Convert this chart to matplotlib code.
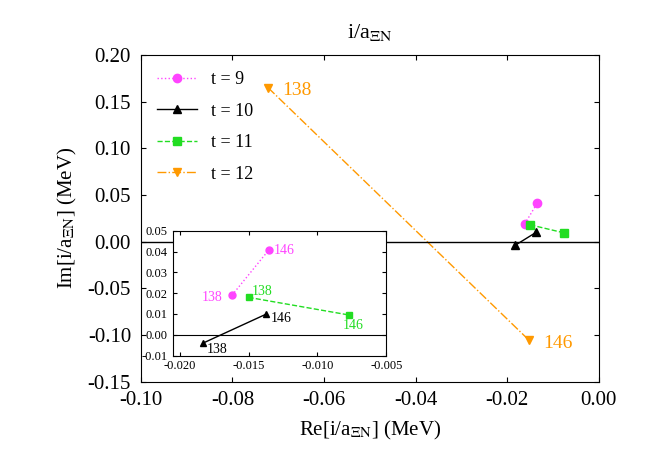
import matplotlib
matplotlib.use("Agg")
import matplotlib.pyplot as plt

plt.rcParams['font.family'] = 'Liberation Serif'
plt.rcParams['mathtext.fontset'] = 'stix'

labels = ["138", "146"]
t9_re = [-0.0162, -0.0135]; t9_im = [0.019, 0.041]
t10_re = [-0.0183, -0.0137]; t10_im = [-0.004, 0.010]
t11_re = [-0.0150, -0.0077]; t11_im = [0.018, 0.0095]
t12_re = [-0.0722, -0.0152]; t12_im = [0.165, -0.106]

series = [
    ("t = 9", t9_re, t9_im, "#ff44ff", "o", ":"),
    ("t = 10", t10_re, t10_im, "black", "^", "-"),
    ("t = 11", t11_re, t11_im, "#22dd22", "s", "--"),
    ("t = 12", t12_re, t12_im, "#ff9900", "v", "-."),
]

fig = plt.figure(figsize=(6.64, 4.71), dpi=100)
ax = fig.add_axes([0.212, 0.19, 0.69, 0.693])
for name, x, y, c, m, ls in series:
    ax.plot(x, y, color=c, marker=m, ls=ls, lw=1, ms=6, label=name)
ax.axhline(0, color='black', lw=1)
ax.text(t12_re[0] + 0.003, t12_im[0] - 0.003, "138", color="#ff9900", fontsize=14, va='center')
ax.text(t12_re[1] + 0.003, t12_im[1] - 0.003, "146", color="#ff9900", fontsize=14, va='center')
ax.set_xlim(-0.10, 0.0)
ax.set_ylim(-0.15, 0.20)
ax.set_xticks([-0.10, -0.08, -0.06, -0.04, -0.02, 0.00])
ax.set_xticklabels(["-0.10", "-0.08", "-0.06", "-0.04", "-0.02", "0.00"])
ax.set_yticks([-0.15, -0.10, -0.05, 0.0, 0.05, 0.10, 0.15, 0.20])
ax.set_yticklabels(["-0.15", "-0.10", "-0.05", "0.00", "0.05", "0.10", "0.15", "0.20"])
ax.tick_params(labelsize=15, direction='in', top=True, right=True, pad=7)
ax.set_xlabel(r"Re[i/a$_{\Xi\mathrm{N}}$] (MeV)", fontsize=15, labelpad=6)
ax.set_ylabel(r"Im[i/a$_{\Xi\mathrm{N}}$] (MeV)", fontsize=15, labelpad=6)
ax.set_title(r"i/a$_{\Xi\mathrm{N}}$", fontsize=16, pad=12)
ax.legend(loc='upper left', frameon=False, fontsize=13, handlelength=2.2, labelspacing=0.8)

ins = fig.add_axes([0.26, 0.245, 0.322, 0.265])
for name, x, y, c, m, ls in series[:3]:
    ins.plot(x, y, color=c, marker=m, ls=ls, lw=1, ms=5)
ins.axhline(0, color='black', lw=0.8)
offs = [(( -0.0022, -0.001), (0.0003, -0.0005)),
        ((0.0003, -0.003), (0.0003, -0.002)),
        ((0.0002, 0.003), (-0.0005, -0.005))]
for (name, x, y, c, m, ls), o in zip(series[:3], offs):
    for i in range(2):
        ins.text(x[i] + o[i][0], y[i] + o[i][1], labels[i], color=c, fontsize=10, va='center')
ins.set_xlim(-0.0205, -0.005)
ins.set_ylim(-0.01, 0.05)
ins.set_xticks([-0.020, -0.015, -0.010, -0.005])
ins.set_xticklabels(["-0.020", "-0.015", "-0.010", "-0.005"])
ins.set_yticks([-0.01, 0.0, 0.01, 0.02, 0.03, 0.04, 0.05])
ins.set_yticklabels(["-0.01", "0.00", "0.01", "0.02", "0.03", "0.04", "0.05"])
ins.tick_params(labelsize=9, direction='in', top=True, right=True, length=3)
fig.savefig("out.png", dpi=100)
